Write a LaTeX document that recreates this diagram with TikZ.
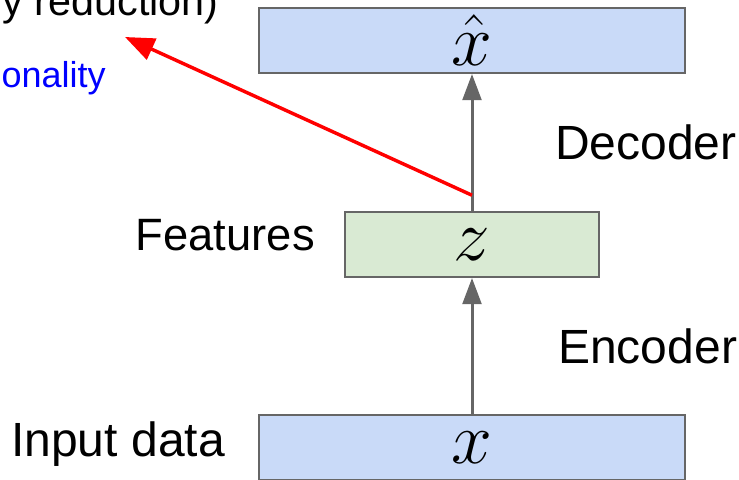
\documentclass[tikz,border=0pt]{standalone}
\usepackage{fix-cm}
\usepackage[no-math]{fontspec}
\setmainfont{Liberation Sans}
\usetikzlibrary{arrows.meta,positioning,calc}

\definecolor{boxblue}{RGB}{201,218,248}
\definecolor{boxgreen}{RGB}{217,234,211}
\definecolor{edgegray}{RGB}{102,102,102}
\definecolor{notered}{RGB}{255,0,0}
\definecolor{noteblue}{RGB}{0,0,255}

\begin{document}
\begin{tikzpicture}[x=0.75pt,y=-0.75pt,
    layer/.style={draw=edgegray, line width=1.5pt, rectangle, inner sep=0pt,
        minimum height=48.75pt, font=\fontsize{55}{64}\selectfont},
    tag/.style={inner sep=0pt, font=\fontsize{36}{42}\selectfont},
    flow/.style={edgegray, line width=2.25pt, -{Triangle[length=19.5pt, width=14pt]}}]
        % Frame of the picture
        \clip (0,0) rectangle (739,479);

        % The three layers
        \node[layer, fill=boxblue, minimum width=319.5pt] (input) at (472,447.5) {$x$};
        \node[layer, fill=boxgreen, minimum width=190.5pt] (code) at (472,244.5) {$z$};
        \node[layer, fill=boxblue, minimum width=319.5pt] (output) at (472,40.5) {$\hat{x}$};

        % Labels beside the layers
        \node[tag, anchor=base west] (inlabel) at (11,456) {Input data};
        \node[tag, anchor=base east, font=\fontsize{34}{40}\selectfont] (featlabel) at (315,250) {Features};
        \node[tag, anchor=base west] (enclabel) at (558,363) {Encoder};
        \node[tag, anchor=base west] (declabel) at (555,159) {Decoder};

        % Notes at the top left, cut by the frame
        \node[inner sep=0pt, anchor=base east, font=\fontsize{31}{36}\selectfont]
            (reduction) at (219,15) {y reduction)};
        \node[inner sep=0pt, anchor=base east, text=noteblue,
            font=\fontsize{27}{32}\selectfont] (dimnote) at (106,87) {onality};

        % Encoder and decoder arrows
        \draw[flow] (input) -- (code);
        \draw[flow] (code) -- (output);

        % Red arrow to the note
        \coordinate (branch) at ($(code.north)!0.115!(output.south)$);
        \coordinate (notetip) at (125,37);
        \draw[notered, line width=2.6pt, -{Triangle[length=22pt, width=17pt]}] (branch) -- (notetip);
    \end{tikzpicture}
\end{document}
